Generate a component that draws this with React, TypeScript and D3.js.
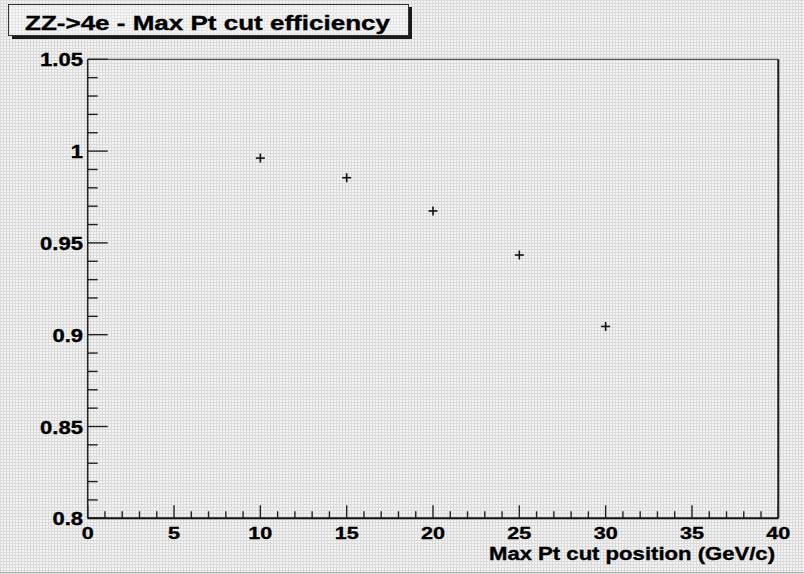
import React from "react";
import * as d3 from "d3";

// Cut position (GeV/c) and resulting selection efficiency
const cutPositions: number[] = [10, 15, 20, 25, 30];
const efficiencies: number[] = [0.9962, 0.9855, 0.9674, 0.9434, 0.9045];

const xDomain: [number, number] = [0, 40];
const yDomain: [number, number] = [0.8, 1.05];
const xMajorTicks: number[] = [0, 5, 10, 15, 20, 25, 30, 35, 40];
const yMajorTicks: number[] = [0.8, 0.85, 0.9, 0.95, 1, 1.05];

const titleText = "ZZ->4e - Max Pt cut efficiency";
const xAxisTitle = "Max Pt cut position (GeV/c)";

const W = 804;
const H = 574;
const FONT = "'Liberation Sans', Arial, Helvetica, sans-serif";

const frame = { left: 87.7, right: 778.3, top: 59.3, bottom: 518.3 };

function labelWidth(s: string, digit: number, dot: number) {
  let w = 0;
  for (const ch of s) w += ch === "." ? dot : digit;
  return w;
}

const textStyle = {
  fontFamily: FONT,
  fontWeight: "bold" as const,
  fill: "#000",
  stroke: "#000",
  strokeWidth: 0.35,
};

export default function App() {
  const x = d3.scaleLinear().domain(xDomain).range([frame.left, frame.right]);
  const y = d3.scaleLinear().domain(yDomain).range([frame.bottom, frame.top]);

  const xMinor = d3.range(xDomain[0], xDomain[1] + 0.001, 1).filter((v) => Math.abs(v % 5) > 1e-6);
  const yMinor = d3
    .range(0, 26)
    .map((i) => +(yDomain[0] + i * 0.01).toFixed(2))
    .filter((v) => Math.abs(Math.round(v * 100) % 5) !== 0);

  const fmt = (v: number) => String(+v.toFixed(2));
  const cross = 4.5;

  return (
    <div style={{ position: "absolute", left: 0, top: 0 }}>
      <svg width={W} height={H} style={{ display: "block" }}>
        <defs>
          <pattern id="canvasGrain" width={3} height={3} patternUnits="userSpaceOnUse">
            <rect width={3} height={3} fill="#dadada" />
            <rect x={1} y={1} width={2} height={2} fill="#f4f4f4" />
          </pattern>
        </defs>
        <rect width={W} height={H} fill="url(#canvasGrain)" />
        <line x1={0} x2={W} y1={572.5} y2={572.5} stroke="#b0b0b0" strokeWidth={1} />

        {/* title pave with shadow */}
        <rect x={12} y={7} width={400} height={32} fill="#1a1a1a" />
        <rect x={8.5} y={4.5} width={400} height={31} fill="url(#canvasGrain)" stroke="#333" strokeWidth={1} />
        <rect x={9.5} y={5.5} width={398} height={29} fill="#ffffff" fillOpacity={0.3} />
        <text x={25} y={29.5} fontSize={20} textLength={365} lengthAdjust="spacingAndGlyphs" {...textStyle}>
          {titleText}
        </text>

        {/* frame */}
        <line x1={frame.left} x2={frame.right} y1={frame.top} y2={frame.top} stroke="#555" strokeWidth={1.2} />
        <line x1={frame.right} x2={frame.right} y1={frame.top} y2={frame.bottom} stroke="#1a1a1a" strokeWidth={2} />

        {/* y axis */}
        <line x1={frame.left} x2={frame.left} y1={frame.top} y2={frame.bottom} stroke="#222" strokeWidth={1.6} />
        {yMajorTicks.map((v) => (
          <line key={"ym" + v} x1={frame.left} x2={frame.left + 20} y1={y(v)} y2={y(v)} stroke="#222" strokeWidth={1.4} />
        ))}
        {yMinor.map((v) => (
          <line key={"yn" + v} x1={frame.left} x2={frame.left + 10} y1={y(v)} y2={y(v)} stroke="#222" strokeWidth={1.4} />
        ))}
        {yMajorTicks.map((v) => {
          const s = fmt(v);
          return (
            <text
              key={"yl" + v}
              x={83}
              y={y(v) + 7}
              textAnchor="end"
              fontSize={18}
              textLength={labelWidth(s, 12.3, 6)}
              lengthAdjust="spacingAndGlyphs"
              {...textStyle}
            >
              {s}
            </text>
          );
        })}

        {/* x axis */}
        <line x1={frame.left} x2={frame.right} y1={frame.bottom} y2={frame.bottom} stroke="#111" strokeWidth={2} />
        {xMajorTicks.map((v) => (
          <line key={"xm" + v} x1={x(v)} x2={x(v)} y1={frame.bottom} y2={frame.bottom - 13} stroke="#222" strokeWidth={1.4} />
        ))}
        {xMinor.map((v) => (
          <line key={"xn" + v} x1={x(v)} x2={x(v)} y1={frame.bottom} y2={frame.bottom - 7} stroke="#222" strokeWidth={1.4} />
        ))}
        {xMajorTicks.map((v) => {
          const s = fmt(v);
          return (
            <text
              key={"xl" + v}
              x={x(v)}
              y={frame.bottom + 21}
              textAnchor="middle"
              fontSize={17}
              textLength={labelWidth(s, 12, 6)}
              lengthAdjust="spacingAndGlyphs"
              {...textStyle}
            >
              {s}
            </text>
          );
        })}
        <text x={775} y={560} textAnchor="end" fontSize={18} textLength={286} lengthAdjust="spacingAndGlyphs" {...textStyle}>
          {xAxisTitle}
        </text>

        {/* data markers */}
        {cutPositions.map((c, i) => {
          const cx = x(c);
          const cy = y(efficiencies[i]);
          return (
            <g key={"p" + c} stroke="#111" strokeWidth={1.6}>
              <line x1={cx - cross} x2={cx + cross} y1={cy} y2={cy} />
              <line x1={cx} x2={cx} y1={cy - cross} y2={cy + cross} />
            </g>
          );
        })}
      </svg>
    </div>
  );
}
